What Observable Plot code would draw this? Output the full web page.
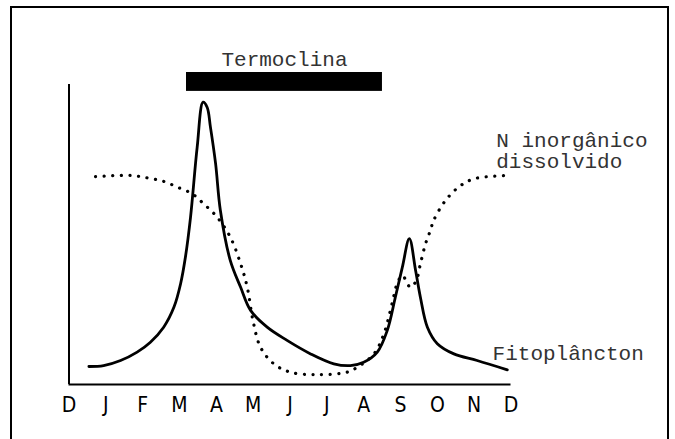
<!DOCTYPE html>
<html>
<head>
<meta charset="utf-8">
<script src="https://cdn.jsdelivr.net/npm/d3@7"></script>
<script src="https://cdn.jsdelivr.net/npm/@observablehq/plot@0.6"></script>
<style>
  html, body { margin: 0; padding: 0; background: #fff; overflow: hidden; }
  #wrap { position: relative; width: 675px; height: 439px; overflow: hidden; }
  #frame { position: absolute; left: 10px; top: 6px; width: 655px; height: 520px; border: 2px solid #000; pointer-events: none; }
  #chart { position: absolute; left: 0; top: 0; }
</style>
</head>
<body>
<div id="wrap"><div id="chart"></div><div id="frame"></div></div>
<script>
// Month tick labels (Dec to Dec)
const months = ["D","J","F","M","A","M","J","J","A","S","O","N","D"];

// Fitoplâncton (solid line): month position, relative level
const phytoMonth = [0.54,0.94,1.40,1.85,2.21,2.57,2.85,3.03,3.16,3.30,3.48,3.64,3.75,3.84,3.98,4.11,4.38,4.66,4.93,5.38,5.92,6.56,7.19,7.64,8.0,8.37,8.64,8.86,9.05,9.24,9.41,9.54,9.73,10.0,10.45,11.08,11.9];
const phytoLevel = [6.0,6.3,8.0,10.8,14.1,19.1,25.8,33.6,42.4,55.8,79.1,94.1,92.4,85.8,73.6,58.0,41.3,32.4,24.7,19.1,14.7,10.2,6.9,6.3,7.4,10.8,18.0,29.1,39.1,48.6,38.0,29.1,19.1,13.6,10.2,8.0,4.9];

// N inorgânico dissolvido (dotted line)
const nitroMonth = [0.72,1.67,2.12,2.57,2.94,3.34,3.66,4.02,4.38,4.66,4.84,5.0,5.2,5.56,6.01,6.74,7.55,7.82,8.28,8.55,8.77,8.91,9.05,9.27,9.43,9.54,9.68,9.81,9.9,10.22,10.63,11.04,11.99];
const nitroLevel = [69.3,69.7,68.9,67.7,65.8,63.6,60.2,55.8,49.1,40.2,32.4,21.0,12.4,6.9,4.1,3.3,4.1,5.7,10.2,16.9,26.9,33.6,36.3,32.4,34.7,40.2,46.9,51.3,54.7,61.3,66.3,68.7,69.7];

// Termoclina period (months)
const thermoclineStart = 3.19;
const thermoclineEnd = 8.51;

const phyto = phytoMonth.map((m, i) => ({month: m, level: phytoLevel[i]}));
const nitro = nitroMonth.map((m, i) => ({month: m, level: nitroLevel[i]}));
const thermo = [{start: thermoclineStart, end: thermoclineEnd}];

const mono = "'Liberation Mono', 'Courier New', 'DejaVu Sans Mono', monospace";
const sansNarrow = "'Liberation Sans Narrow', 'DejaVu Sans Condensed', 'Liberation Sans', sans-serif";

const chart = Plot.plot({
  width: 675,
  height: 439,
  marginLeft: 68.5,
  marginRight: 164.5,
  marginTop: 84,
  marginBottom: 55,
  x: {domain: [0, 12]},
  y: {domain: [0, 100], axis: null},
  style: {background: "transparent", overflow: "visible"},
  marks: [
    Plot.ruleX([0], {stroke: "#000", strokeWidth: 2}),
    Plot.ruleY([0], {stroke: "#000", strokeWidth: 2}),
    Plot.axisX(d3.range(months.length), {
      tickSize: 0,
      tickPadding: 13,
      tickFormat: (i) => months[i],
      fontSize: 21,
      fontFamily: sansNarrow,
      fontWeight: "normal",
      fill: "#000",
      label: null
    }),
    Plot.line(nitro, {
      x: "month", y: "level", curve: "catmull-rom",
      stroke: "#000", strokeWidth: 3.2, strokeDasharray: "0.1 8.5", strokeLinecap: "round"
    }),
    Plot.line(phyto, {
      x: "month", y: "level", curve: "catmull-rom",
      stroke: "#000", strokeWidth: 2.8
    }),
    Plot.rect(thermo, {x1: "start", x2: "end", y1: () => 97.7, y2: () => 104, fill: "#000"}),
    Plot.text(thermo, {
      x: (d) => (d.start + d.end) / 2, y: () => 111.3, text: () => "Termoclina",
      textAnchor: "middle", lineAnchor: "top", fontFamily: mono, fontSize: 21, fill: "#333"
    }),
    Plot.text(["N inorgânico\ndissolvido"], {
      x: () => 11.6, y: () => 84.3, text: (d) => d,
      textAnchor: "start", lineAnchor: "top", lineHeight: 1, fontFamily: mono, fontSize: 21, fill: "#333"
    }),
    Plot.text(["Fitoplâncton"], {
      x: () => 11.5, y: () => 13, text: (d) => d,
      textAnchor: "start", lineAnchor: "top", fontFamily: mono, fontSize: 21, fill: "#333"
    })
  ]
});
document.getElementById("chart").appendChild(chart);
</script>
</body>
</html>
